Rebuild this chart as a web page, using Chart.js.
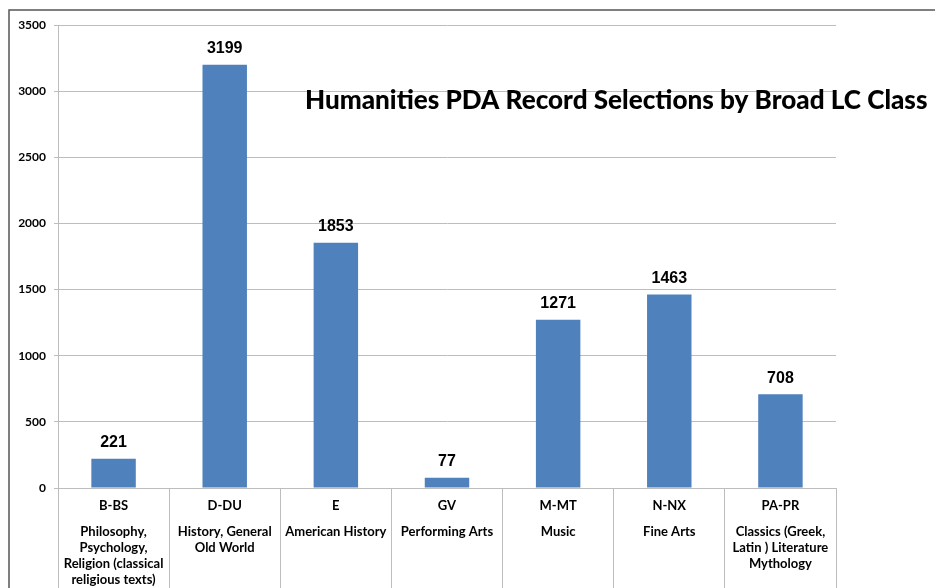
<!DOCTYPE html>
<html>
<head>
<meta charset="utf-8">
<script src="https://cdn.jsdelivr.net/npm/chart.js@4.4.1/dist/chart.umd.min.js"></script>
<style>
  html, body { margin: 0; padding: 0; background: #fff; }
  #wrap { width: 935px; height: 588px; position: relative; }
</style>
</head>
<body>
<div id="wrap"><canvas id="pdaChart" width="935" height="588"></canvas></div>
<script>
// data
const classCodes = ['B-BS', 'D-DU', 'E', 'GV', 'M-MT', 'N-NX', 'PA-PR'];
const classNames = [
    ['Philosophy,', 'Psychology,', 'Religion (classical', 'religious texts)'],
    ['History, General', 'Old World'],
    ['American History'],
    ['Performing Arts'],
    ['Music'],
    ['Fine Arts'],
    ['Classics (Greek,', 'Latin ) Literature', 'Mythology']
];
const recordCounts = [221, 3199, 1853, 77, 1271, 1463, 708];
const yMax = 3500;
const yStep = 500;
const chartTitle = 'Humanities PDA Record Selections by Broad LC Class';

const gridGray = '#bdbdbd';
const labelFont = "Lato, 'Open Sans', sans-serif";

// frame round the picture (top + left edges)
const framePlugin = {
    id: 'frame',
    beforeDraw(chart) {
        const c = chart.ctx;
        c.save();
        c.strokeStyle = '#555';
        c.lineWidth = 1.5;
        c.beginPath();
        c.moveTo(9, chart.height);
        c.lineTo(9, 10);
        c.lineTo(chart.width, 10);
        c.stroke();
        c.restore();
    }
};

// big title sitting inside the plot
const titlePlugin = {
    id: 'bigTitle',
    afterDraw(chart) {
        const c = chart.ctx;
        c.save();
        let size = 100;
        c.font = '900 ' + size + 'px ' + labelFont;
        size = size * 623 / c.measureText(chartTitle).width;
        c.font = '900 ' + size.toFixed(1) + 'px ' + labelFont;
        c.fillStyle = '#000';
        c.textAlign = 'left';
        c.textBaseline = 'middle';
        c.fillText(chartTitle, 305, 101);
        c.restore();
    }
};

// numbers above the bars
const valueLabels = {
    id: 'valueLabels',
    afterDatasetsDraw(chart) {
        const c = chart.ctx;
        const meta = chart.getDatasetMeta(0);
        c.save();
        c.font = "bold 16px 'Liberation Sans', Arial, sans-serif";
        c.fillStyle = '#000';
        c.textAlign = 'center';
        c.textBaseline = 'bottom';
        meta.data.forEach((bar, i) => {
            c.fillText(recordCounts[i], bar.x, bar.y - 8);
        });
        c.restore();
    }
};

const ctx = document.getElementById('pdaChart').getContext('2d');

let pdaChart = new Chart(ctx, {
    type: 'bar',
    data: {
        labels: classCodes,
        datasets: [{
            data: recordCounts,
            backgroundColor: '#4f81bd',
            borderWidth: 0,
            barPercentage: 0.4,
            categoryPercentage: 1.0
        }]
    },
    options: {
        responsive: false,
        animation: false,
        layout: {
            padding: { left: 8, right: 99, top: 25, bottom: 0 }
        },
        plugins: {
            legend: { display: false },
            title: { display: false },
            tooltip: { enabled: false }
        },
        scales: {
            y: {
                min: 0,
                max: yMax,
                afterFit(scale) { scale.width = 50; },
                ticks: {
                    stepSize: yStep,
                    padding: 8,
                    color: '#000',
                    callback: (v) => String(v),
                    font: { family: labelFont, size: 12, weight: 'bold' }
                },
                grid: {
                    color: gridGray,
                    tickLength: 4
                },
                border: { color: gridGray }
            },
            x: {
                position: 'bottom',
                afterFit(scale) { scale.height = 26; },
                ticks: {
                    padding: -16,
                    maxRotation: 0,
                    autoSkip: false,
                    color: '#000',
                    font: { family: labelFont, size: 13, weight: 'bold' }
                },
                grid: {
                    offset: true,
                    drawOnChartArea: false,
                    color: gridGray,
                    tickLength: 26
                },
                border: { color: gridGray }
            },
            x2: {
                type: 'category',
                position: 'bottom',
                labels: classNames,
                afterFit(scale) { scale.height = 74; },
                ticks: {
                    padding: -64,
                    maxRotation: 0,
                    autoSkip: false,
                    color: '#000',
                    font: { family: labelFont, size: 13, weight: 'bold', lineHeight: 1.23 }
                },
                grid: {
                    offset: true,
                    drawOnChartArea: false,
                    color: gridGray,
                    tickLength: 74
                },
                border: { display: false }
            }
        }
    },
    plugins: [framePlugin, valueLabels, titlePlugin]
});
</script>
</body>
</html>
